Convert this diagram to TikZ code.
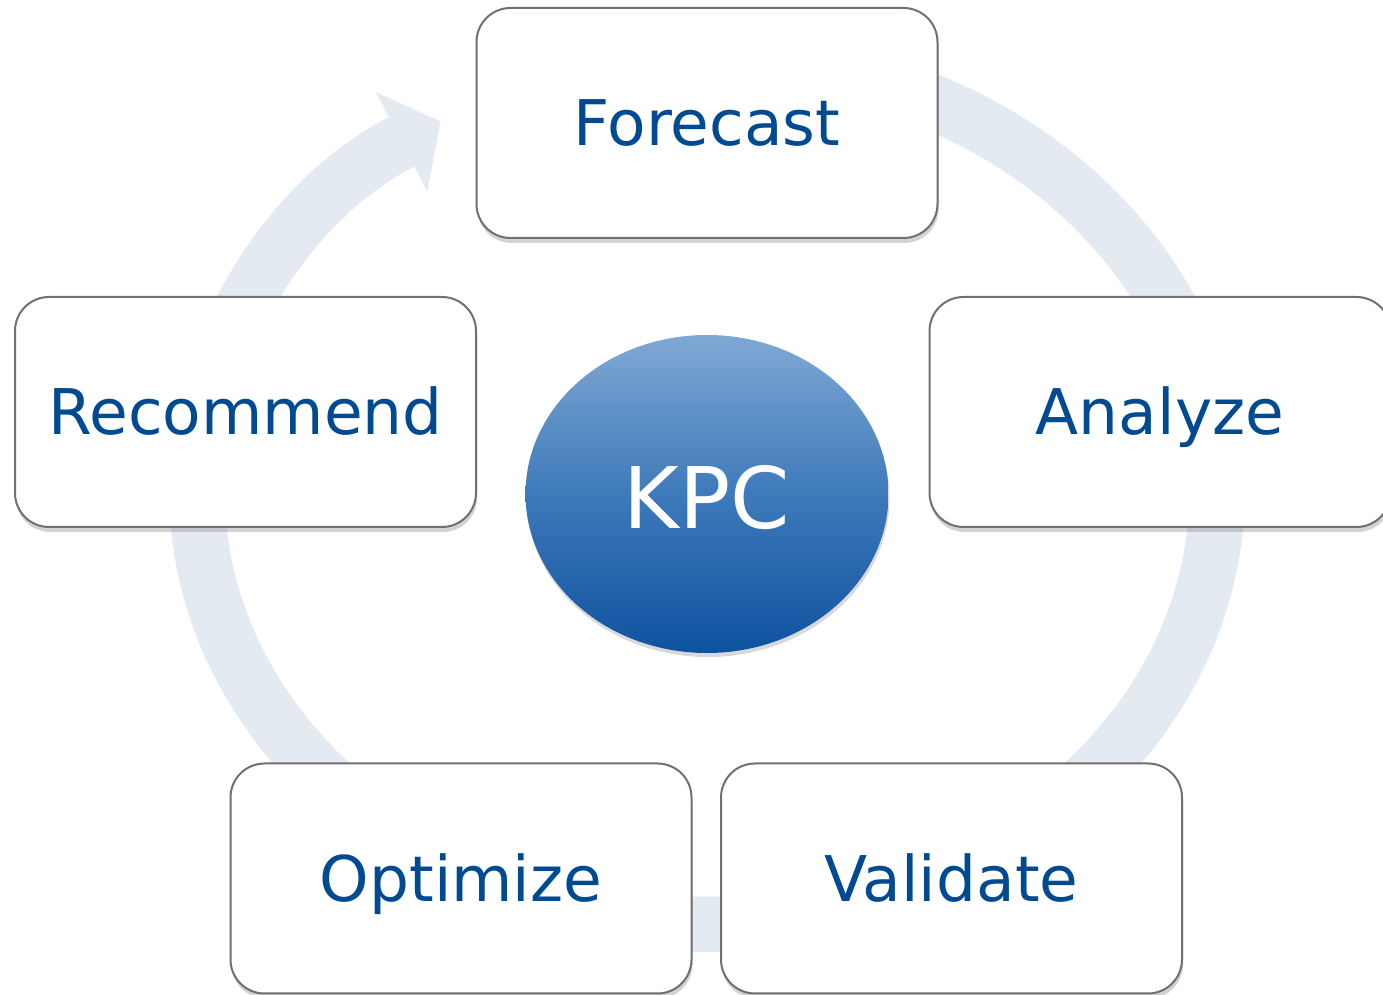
\documentclass[tikz,border=0pt]{standalone}
\usepackage{fontspec}
\setmainfont{DejaVu Sans}
\usetikzlibrary{shapes}
\usetikzlibrary{arrows.meta}
\usetikzlibrary{shadows}
\definecolor{kpcblue}{RGB}{0,74,145}
\definecolor{ringgray}{RGB}{228,234,242}
\definecolor{boxline}{RGB}{112,112,112}
\definecolor{hubtop}{RGB}{128,168,212}
\definecolor{hubmid}{RGB}{62,122,186}
\definecolor{hubbottom}{RGB}{14,82,160}

\begin{document}
\begin{tikzpicture}[x=1pt,y=1pt]
	\tikzstyle{stage}=[rectangle,rounded corners=34pt,draw=boxline,line width=2pt,fill=white,
		minimum width=461pt,minimum height=230pt,text=kpcblue,font=\fontsize{63}{70}\selectfont,
		text height=46pt,text depth=0pt,drop shadow={shadow xshift=1pt,shadow yshift=-5pt,opacity=0.35}]
	\tikzstyle{hub}=[ellipse,minimum width=363pt,minimum height=318pt,inner sep=0pt,
		top color=hubtop,bottom color=hubbottom,middle color=hubmid,text=white,
		font=\fontsize{85}{90}\selectfont,text height=70pt,text depth=0pt,
		drop shadow={shadow xshift=1pt,shadow yshift=-4pt,opacity=0.3}]
	\tikzstyle{ring}=[line width=55.5pt,draw=ringgray,-{Triangle[length=44pt,width=112pt,line width=0pt]}]
	\useasboundingbox (0,0) rectangle (1383,995);
	% cycle band behind the boxes
	\coordinate (c) at (707,504);
	\draw[ring] ([shift={(90:510 and 433.5)}]c) arc[start angle=90,end angle=-238.5,x radius=510,y radius=433.5];
	\node[stage] (forecast) at (707,872) {Forecast};
	\node[stage] (analyze) at (1160,583) {Analyze};
	\node[stage] (validate) at (951.5,116.5) {Validate};
	\node[stage] (optimize) at (461,116.5) {Optimize};
	\node[stage] (recommend) at (245.5,583) {Recommend};
	\node[hub] (kpc) at (707,501) {KPC};
\end{tikzpicture}
\end{document}
